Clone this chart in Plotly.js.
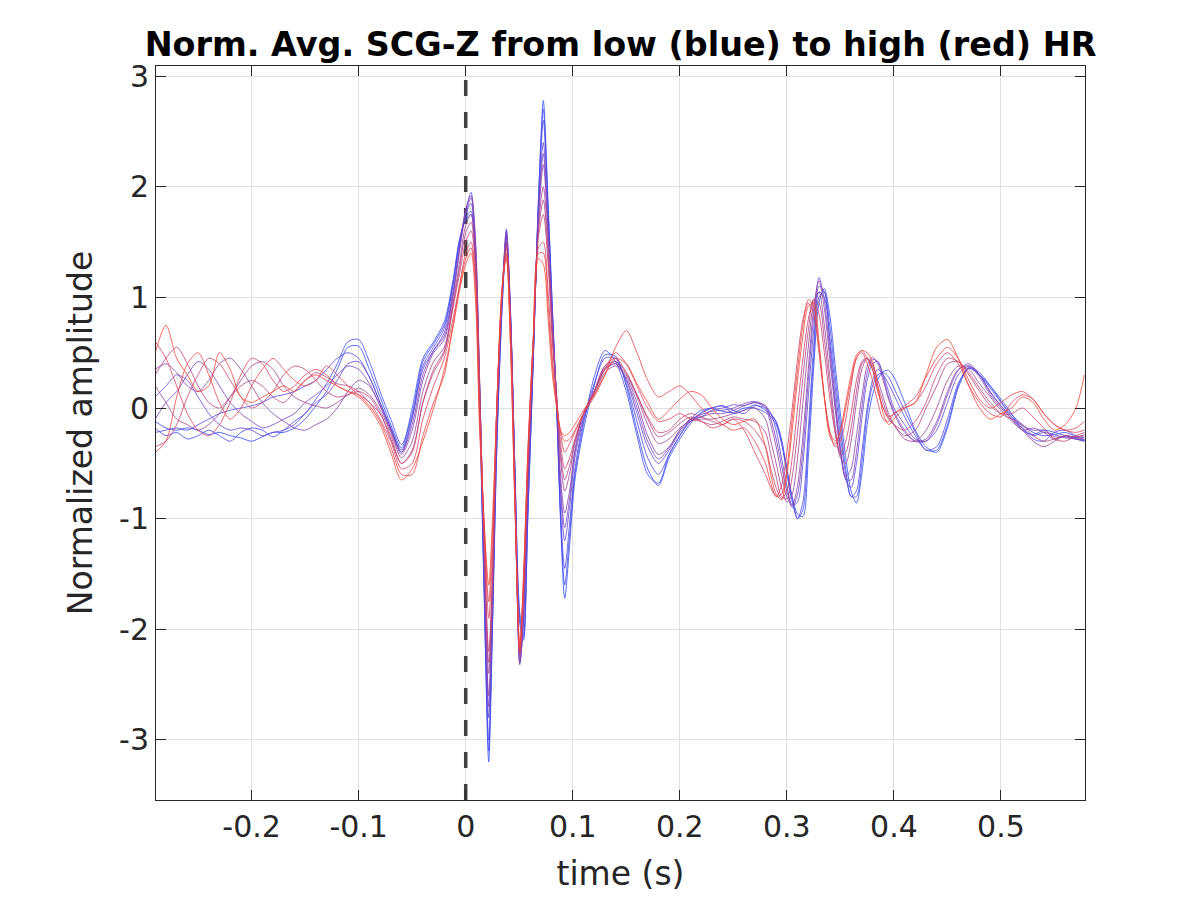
<!DOCTYPE html>
<html>
<head>
<meta charset="utf-8">
<script src="https://cdn.plot.ly/plotly-3.0.1.min.js"></script>
<style>html,body{margin:0;padding:0;background:#fff;}#chart{width:1200px;height:900px;}</style>
</head>
<body>
<div id="chart"></div>
<script>
// time axis (s)
const timeSec = [
  -0.29,-0.28,-0.27,-0.26,-0.25,-0.24,-0.23,-0.22,-0.21,-0.20,-0.19,-0.18,-0.17,-0.16,-0.15,-0.14,-0.13,-0.12,-0.11,-0.10,-0.09,-0.08,-0.07,-0.06,-0.05,-0.04,-0.03,-0.02,
  -0.012,-0.006,0,0.005,0.009,0.013,0.017,0.0215,0.025,0.029,0.034,0.038,0.042,0.046,0.0505,0.054,0.058,0.063,0.068,0.0725,0.077,0.081,0.085,0.0885,0.0925,0.097,0.102,
  0.11,0.12,0.13,0.14,0.15,0.16,0.17,0.18,0.19,0.20,0.21,0.22,0.23,0.24,0.25,0.26,0.27,0.28,
  0.285,0.29,0.295,0.30,0.305,0.31,0.315,0.32,0.325,0.33,0.335,0.34,0.345,0.35,0.355,0.36,0.365,0.37,0.375,0.38,0.385,0.39,0.395,0.40,
  0.41,0.42,0.43,0.44,0.45,0.46,0.47,0.48,0.49,0.50,0.51,0.52,0.53,0.54,0.55,0.56,0.57,0.578
];

// normalized averaged beats, from low HR (01) to high HR (12)
const beatHR01 = [
  -0.12,-0.18,-0.2,-0.18,-0.2,-0.24,-0.22,-0.25,-0.27,-0.3,-0.26,-0.22,-0.22,-0.18,-0.1,0.02,0.15,0.35,0.55,0.56,0.35,0.1,-0.15,-0.36,0.0,0.45,0.6,0.78,
  1.15,1.5,1.72,1.78,1.3,0.0,-1.6,-3.2,-2.0,-0.4,0.9,1.5,0.75,-0.55,-1.85,-2.05,-1.0,0.4,1.9,2.78,1.85,0.9,0.0,-1.0,-1.72,-1.25,-0.65,
  -0.2,0.2,0.48,0.47,0.2,-0.2,-0.55,-0.7,-0.45,-0.28,-0.14,-0.04,0.0,-0.03,-0.04,0.0,0.0,-0.04,
  -0.08,-0.15,-0.32,-0.55,-0.8,-0.96,-0.98,-0.45,0.35,0.95,1.08,0.85,0.4,-0.05,-0.45,-0.75,-0.86,-0.6,-0.15,0.12,0.26,0.33,0.34,0.28,
  0.05,-0.2,-0.35,-0.4,-0.18,0.18,0.36,0.3,0.2,0.08,-0.05,-0.2,-0.24,-0.2,-0.22,-0.25,-0.28,-0.3
];
const beatHR02 = [
  -0.18,-0.25,-0.22,-0.28,-0.25,-0.2,-0.25,-0.3,-0.22,-0.18,-0.2,-0.26,-0.2,-0.12,-0.05,0.08,0.22,0.4,0.6,0.62,0.42,0.15,-0.1,-0.33,-0.05,0.42,0.58,0.75,
  1.12,1.52,1.7,1.75,1.32,0.05,-1.55,-3.1,-1.95,-0.35,0.92,1.55,0.78,-0.58,-1.9,-2.08,-0.98,0.42,1.88,2.7,1.8,0.88,0.0,-0.95,-1.6,-1.15,-0.6,
  -0.15,0.28,0.52,0.42,0.15,-0.25,-0.6,-0.68,-0.42,-0.25,-0.1,-0.02,0.0,0.02,-0.05,-0.02,0.03,-0.02,
  -0.06,-0.13,-0.3,-0.6,-0.85,-1.0,-0.92,-0.3,0.45,1.0,1.05,0.75,0.3,-0.15,-0.55,-0.8,-0.8,-0.5,-0.05,0.2,0.3,0.32,0.28,0.18,
  -0.02,-0.22,-0.38,-0.38,-0.15,0.2,0.37,0.32,0.2,0.06,-0.06,-0.15,-0.22,-0.25,-0.24,-0.22,-0.26,-0.29
];
const beatHR03 = [
  -0.22,-0.2,-0.18,-0.2,-0.15,-0.1,-0.05,-0.02,0.0,0.02,0.05,0.1,0.12,0.15,0.2,0.25,0.35,0.45,0.5,0.45,0.28,0.05,-0.18,-0.38,-0.08,0.38,0.55,0.72,
  1.1,1.48,1.75,1.85,1.4,0.1,-1.5,-3.0,-1.9,-0.3,0.95,1.58,0.8,-0.6,-1.95,-2.1,-0.95,0.4,1.85,2.6,1.75,0.85,0.0,-0.9,-1.45,-1.05,-0.55,
  -0.12,0.22,0.45,0.45,0.22,-0.12,-0.45,-0.6,-0.42,-0.25,-0.12,-0.05,0.0,0.02,-0.02,-0.05,0.02,0.0,
  -0.05,-0.12,-0.28,-0.55,-0.82,-1.0,-0.85,-0.2,0.55,1.05,1.0,0.65,0.2,-0.25,-0.6,-0.8,-0.75,-0.4,0.0,0.25,0.35,0.3,0.22,0.12,
  -0.08,-0.25,-0.38,-0.35,-0.1,0.22,0.36,0.3,0.18,0.05,-0.08,-0.18,-0.28,-0.3,-0.22,-0.2,-0.25,-0.27
];
const beatHR04 = [
  0.1,0.2,0.3,0.25,0.1,-0.05,-0.15,-0.2,-0.18,-0.2,-0.25,-0.22,-0.2,-0.15,-0.05,0.05,0.12,0.25,0.4,0.42,0.28,0.05,-0.18,-0.4,-0.1,0.35,0.52,0.68,
  1.05,1.45,1.78,1.95,1.5,0.2,-1.4,-2.8,-1.8,-0.2,1.0,1.62,0.85,-0.6,-2.3,-1.95,-0.8,0.45,1.8,2.4,1.65,0.8,0.05,-0.75,-1.2,-0.9,-0.45,
  -0.1,0.15,0.38,0.42,0.25,-0.05,-0.35,-0.5,-0.38,-0.22,-0.12,-0.08,-0.02,0.0,0.03,0.02,0.05,0.02,
  -0.05,-0.2,-0.45,-0.7,-0.88,-0.85,-0.5,0.1,0.7,1.1,1.05,0.6,0.1,-0.35,-0.65,-0.72,-0.5,-0.1,0.25,0.4,0.42,0.3,0.15,0.0,
  -0.15,-0.28,-0.3,-0.2,0.05,0.3,0.38,0.3,0.15,0.02,-0.1,-0.18,-0.25,-0.22,-0.24,-0.27,-0.28,-0.3
];
const beatHR05 = [
  -0.1,0.05,0.15,0.3,0.42,0.35,0.2,0.05,-0.05,-0.12,-0.18,-0.15,-0.1,-0.05,0.05,0.12,0.2,0.3,0.38,0.35,0.22,0.02,-0.2,-0.4,-0.15,0.3,0.52,0.65,
  1.02,1.42,1.8,1.92,1.55,0.25,-1.35,-2.7,-1.75,-0.15,1.02,1.6,0.82,-0.65,-2.32,-1.9,-0.75,0.48,1.75,2.3,1.6,0.78,0.05,-0.68,-1.08,-0.82,-0.4,
  -0.08,0.14,0.35,0.4,0.26,0.0,-0.3,-0.46,-0.36,-0.2,-0.1,-0.06,-0.03,-0.02,0.0,0.04,0.06,0.02,
  -0.1,-0.28,-0.52,-0.75,-0.9,-0.78,-0.38,0.25,0.82,1.18,0.98,0.52,0.05,-0.38,-0.64,-0.65,-0.4,0.0,0.32,0.44,0.42,0.28,0.1,-0.03,
  -0.2,-0.3,-0.3,-0.15,0.12,0.34,0.4,0.3,0.14,0.02,-0.08,-0.16,-0.2,-0.2,-0.26,-0.26,-0.28,-0.29
];
const beatHR06 = [
  0.35,0.4,0.32,0.2,0.15,0.25,0.4,0.45,0.35,0.2,0.05,-0.05,-0.12,-0.18,-0.2,-0.15,-0.1,0.0,0.15,0.25,0.2,0.02,-0.2,-0.42,-0.2,0.25,0.5,0.62,
  1.0,1.4,1.75,1.9,1.5,0.25,-1.3,-2.6,-1.7,-0.1,1.05,1.55,0.8,-0.7,-2.3,-1.85,-0.7,0.5,1.7,2.2,1.55,0.75,0.05,-0.6,-0.95,-0.75,-0.38,
  -0.05,0.12,0.32,0.38,0.28,0.05,-0.25,-0.42,-0.35,-0.2,-0.1,-0.08,-0.05,-0.05,-0.02,0.02,0.05,0.0,
  -0.15,-0.35,-0.6,-0.8,-0.88,-0.7,-0.25,0.35,0.9,1.15,0.9,0.45,0.0,-0.4,-0.62,-0.55,-0.25,0.1,0.38,0.46,0.4,0.25,0.08,-0.05,
  -0.22,-0.3,-0.28,-0.12,0.15,0.35,0.38,0.28,0.12,0.0,-0.1,-0.2,-0.18,-0.22,-0.28,-0.25,-0.27,-0.28
];
const beatHR07 = [
  0.2,0.05,-0.1,-0.15,-0.2,-0.15,-0.05,0.1,0.25,0.38,0.42,0.35,0.2,0.1,0.05,0.02,0.0,0.05,0.12,0.18,0.12,-0.02,-0.22,-0.45,-0.3,0.15,0.42,0.55,
  0.95,1.3,1.65,1.75,1.4,0.2,-1.2,-2.4,-1.6,-0.05,1.05,1.5,0.75,-0.75,-2.25,-1.75,-0.6,0.55,1.65,2.0,1.45,0.7,0.1,-0.45,-0.75,-0.6,-0.32,
  -0.05,0.15,0.35,0.4,0.3,0.1,-0.15,-0.32,-0.28,-0.18,-0.12,-0.1,-0.1,-0.08,-0.05,-0.02,0.0,-0.1,
  -0.3,-0.5,-0.72,-0.85,-0.78,-0.45,0.05,0.55,0.95,1.05,0.75,0.3,-0.15,-0.45,-0.5,-0.3,0.05,0.35,0.45,0.4,0.25,0.1,-0.05,-0.15,
  -0.28,-0.3,-0.2,0.0,0.25,0.38,0.35,0.22,0.1,-0.02,-0.12,-0.2,-0.3,-0.35,-0.3,-0.25,-0.27,-0.25
];
const beatHR08 = [
  0.3,0.45,0.55,0.4,0.2,0.05,0.0,0.1,0.2,0.25,0.2,0.1,0.05,0.15,0.25,0.32,0.28,0.22,0.2,0.15,0.05,-0.05,-0.28,-0.5,-0.38,0.05,0.35,0.52,
  0.92,1.25,1.58,1.68,1.35,0.18,-1.15,-2.3,-1.55,-0.02,1.05,1.48,0.72,-0.78,-2.22,-1.68,-0.55,0.58,1.6,1.88,1.38,0.65,0.1,-0.38,-0.65,-0.52,-0.3,
  -0.05,0.15,0.36,0.42,0.32,0.12,-0.1,-0.26,-0.22,-0.14,-0.08,-0.12,-0.15,-0.12,-0.08,-0.1,-0.12,-0.22,
  -0.42,-0.62,-0.8,-0.82,-0.62,-0.22,0.28,0.7,0.98,0.95,0.62,0.2,-0.2,-0.42,-0.4,-0.18,0.15,0.4,0.45,0.38,0.2,0.05,-0.08,-0.15,
  -0.25,-0.2,0.0,0.2,0.4,0.42,0.32,0.18,0.05,-0.05,-0.1,-0.15,-0.25,-0.3,-0.28,-0.25,-0.26,-0.24
];
const beatHR09 = [
  -0.35,-0.3,-0.15,0.1,0.3,0.45,0.4,0.25,0.1,0.0,0.05,0.15,0.3,0.38,0.35,0.25,0.15,0.1,0.12,0.15,0.1,-0.05,-0.25,-0.5,-0.4,0.05,0.32,0.5,
  0.9,1.2,1.5,1.6,1.3,0.15,-1.1,-2.2,-1.5,0.0,1.05,1.45,0.7,-0.8,-2.2,-1.6,-0.5,0.6,1.55,1.75,1.3,0.6,0.1,-0.3,-0.55,-0.45,-0.28,
  -0.05,0.15,0.38,0.45,0.32,0.12,-0.08,-0.22,-0.2,-0.1,-0.05,-0.08,-0.12,-0.15,-0.1,-0.12,-0.2,-0.35,
  -0.55,-0.72,-0.82,-0.75,-0.45,0.0,0.45,0.8,0.98,0.85,0.5,0.1,-0.22,-0.4,-0.3,-0.05,0.25,0.42,0.45,0.35,0.15,0.0,-0.1,-0.15,
  -0.2,-0.12,0.05,0.3,0.45,0.42,0.3,0.15,0.02,-0.05,-0.05,0.0,-0.08,-0.18,-0.28,-0.3,-0.25,-0.22
];
const beatHR10 = [
  0.6,0.45,0.2,-0.05,-0.2,-0.25,-0.15,0.05,0.3,0.45,0.4,0.25,0.15,0.2,0.3,0.35,0.3,0.2,0.15,0.12,0.05,-0.1,-0.3,-0.55,-0.5,-0.1,0.2,0.45,
  0.8,1.1,1.4,1.5,1.2,0.0,-1.0,-1.9,-1.3,0.0,1.05,1.4,0.6,-0.85,-2.2,-1.5,-0.45,0.6,1.45,1.5,1.05,0.45,0.05,-0.22,-0.4,-0.32,-0.22,
  -0.05,0.15,0.35,0.5,0.4,0.2,0.0,-0.12,-0.1,-0.05,-0.1,-0.12,-0.18,-0.15,-0.1,-0.2,-0.4,-0.6,
  -0.72,-0.8,-0.7,-0.4,0.0,0.45,0.8,0.95,0.85,0.5,0.1,-0.2,-0.35,-0.3,-0.1,0.2,0.45,0.5,0.4,0.25,0.05,-0.1,-0.12,-0.05,
  0.0,0.05,0.2,0.4,0.5,0.4,0.2,0.05,-0.05,-0.08,0.05,0.12,0.08,-0.05,-0.15,-0.2,-0.22,-0.2
];
const beatHR11 = [
  -0.4,-0.3,0.1,0.4,0.5,0.3,0.05,-0.1,0.0,0.2,0.35,0.45,0.35,0.25,0.2,0.25,0.38,0.3,0.2,0.12,0.02,-0.12,-0.35,-0.6,-0.6,-0.25,0.05,0.3,
  0.75,1.08,1.35,1.45,1.1,-0.1,-1.0,-1.75,-1.15,0.0,1.08,1.38,0.55,-0.88,-2.18,-1.55,-0.42,0.6,1.4,1.4,0.92,0.38,0.02,-0.2,-0.3,-0.28,-0.2,
  -0.05,0.1,0.3,0.55,0.7,0.5,0.25,0.1,0.15,0.2,0.12,0.0,-0.08,-0.15,-0.2,-0.18,-0.3,-0.5,
  -0.68,-0.8,-0.78,-0.55,-0.1,0.35,0.75,0.98,0.92,0.55,0.1,-0.22,-0.3,-0.22,0.0,0.25,0.45,0.52,0.45,0.35,0.15,0.0,-0.08,-0.05,
  0.02,0.1,0.28,0.45,0.55,0.45,0.25,0.08,0.0,0.05,0.12,0.15,0.08,-0.05,-0.15,-0.2,-0.18,-0.12
];
const beatHR12 = [
  0.5,0.75,0.45,0.3,0.15,0.2,0.5,0.35,0.1,0.05,0.1,0.15,0.2,0.15,0.25,0.3,0.25,0.2,0.15,0.1,0.0,-0.15,-0.4,-0.65,-0.55,-0.3,0.0,0.35,
  0.72,1.05,1.3,1.4,1.0,-0.2,-1.0,-1.6,-1.0,0.0,1.1,1.35,0.5,-0.9,-2.15,-1.6,-0.4,0.6,1.35,1.3,0.8,0.3,0.0,-0.2,-0.25,-0.22,-0.15,
  -0.02,0.12,0.3,0.45,0.4,0.22,0.05,-0.1,-0.02,0.08,0.15,0.12,0.0,-0.1,-0.15,-0.12,-0.1,-0.35,
  -0.6,-0.78,-0.83,-0.6,-0.2,0.25,0.65,0.92,0.95,0.6,0.1,-0.25,-0.33,-0.2,0.05,0.3,0.48,0.52,0.5,0.42,0.2,-0.05,-0.15,-0.1,
  0.0,0.05,0.3,0.55,0.62,0.45,0.2,0.0,-0.1,-0.05,0.0,0.1,0.05,-0.1,-0.2,-0.15,0.0,0.3
];

const beats = [beatHR01, beatHR02, beatHR03, beatHR04, beatHR05, beatHR06,
               beatHR07, beatHR08, beatHR09, beatHR10, beatHR11, beatHR12];
const beatColors = ['rgb(45,75,250)','rgb(62,73,238)','rgb(80,70,226)','rgb(98,68,210)',
                    'rgb(118,66,192)','rgb(138,65,172)','rgb(158,65,152)','rgb(178,65,132)',
                    'rgb(198,65,112)','rgb(216,66,92)','rgb(232,68,72)','rgb(245,70,50)'];

// R-peak reference (t = 0)
const onsetX = [0, 0];
const onsetY = [-3.543, 3.092];

const xTickVals = [-0.2,-0.1,0,0.1,0.2,0.3,0.4,0.5];
const xTickText = ['-0.2','-0.1','0','0.1','0.2','0.3','0.4','0.5'];
const yTickVals = [-3,-2,-1,0,1,2,3];
const yTickText = ['-3','-2','-1','0','1','2','3'];

const traces = [{
  x: onsetX, y: onsetY, type: 'scatter', mode: 'lines',
  line: {color: '#404040', width: 3.5, dash: '16px,16px'},
  hoverinfo: 'skip', showlegend: false
}].concat(beats.map((b, i) => ({
  x: timeSec, y: b, type: 'scatter', mode: 'lines',
  line: {color: beatColors[i], width: 1, shape: 'spline', smoothing: 0.8},
  opacity: 0.8, hoverinfo: 'skip', showlegend: false
})));

const axisColor = '#262626';
const fontFam = 'DejaVu Sans, sans-serif';

const layout = {
  width: 1200, height: 900,
  paper_bgcolor: '#ffffff', plot_bgcolor: '#ffffff',
  margin: {l: 156, r: 115, t: 66, b: 100, pad: 0},
  showlegend: false,
  title: {
    text: '<b>Norm. Avg. SCG-Z from low (blue) to high (red) HR</b>',
    font: {family: fontFam, size: 33.4, color: '#000000'},
    x: 0.5, xref: 'paper', xanchor: 'center',
    y: 0.951, yref: 'container', yanchor: 'middle'
  },
  xaxis: {
    range: [-0.2893, 0.5785],
    tickmode: 'array', tickvals: xTickVals, ticktext: xTickText,
    ticks: 'inside', ticklen: 10, tickwidth: 1, tickcolor: axisColor,
    showline: true, linecolor: axisColor, linewidth: 1, mirror: 'ticks',
    showgrid: true, gridcolor: '#dfdfdf', gridwidth: 1, zeroline: false,
    tickfont: {family: fontFam, size: 30, color: axisColor},
    title: {text: 'time (s)', font: {family: fontFam, size: 33, color: axisColor}, standoff: 18}
  },
  yaxis: {
    range: [-3.543, 3.092],
    tickmode: 'array', tickvals: yTickVals, ticktext: yTickText,
    ticks: 'inside', ticklen: 10, tickwidth: 1, tickcolor: axisColor,
    showline: true, linecolor: axisColor, linewidth: 1, mirror: 'ticks',
    showgrid: true, gridcolor: '#dfdfdf', gridwidth: 1, zeroline: false,
    tickfont: {family: fontFam, size: 30, color: axisColor},
    title: {text: 'Normalized amplitude', font: {family: fontFam, size: 33, color: axisColor}, standoff: 16}
  }
};

Plotly.newPlot('chart', traces, layout, {displayModeBar: false, staticPlot: true});
</script>
</body>
</html>
